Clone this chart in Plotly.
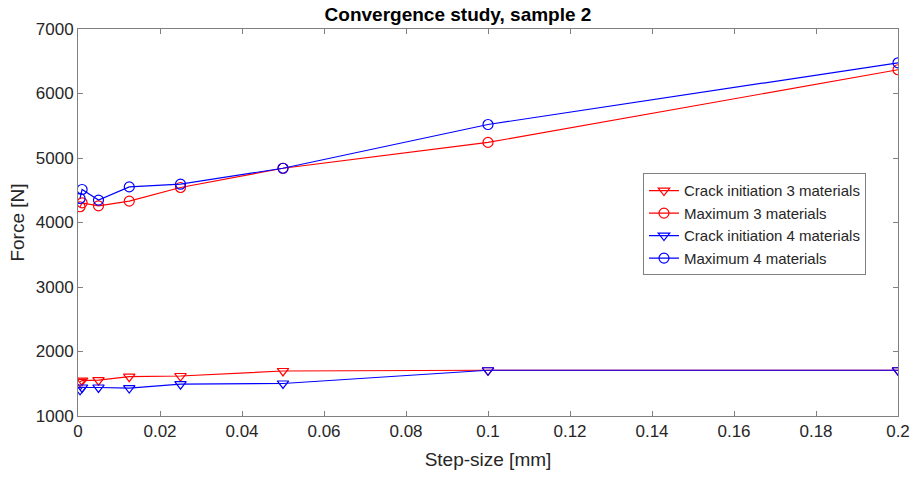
import plotly.graph_objects as go

step = [0.0005, 0.001, 0.005, 0.0125, 0.025, 0.05, 0.1, 0.2]
crack3 = [1530, 1550, 1555, 1610, 1620, 1698, 1709, 1709]
max3 = [4244, 4305, 4259, 4331, 4543, 4841, 5242, 6368]
crack4 = [1405, 1442, 1442, 1432, 1493, 1504, 1709, 1709]
max4 = [4373, 4512, 4347, 4552, 4594, 4841, 5519, 6476]

FONT = "Liberation Sans, Arial, Helvetica"

fig = go.Figure()
series = [
    ("Crack initiation 3 materials", crack3, "red", "triangle-down-open"),
    ("Maximum 3 materials", max3, "red", "circle-open"),
    ("Crack initiation 4 materials", crack4, "blue", "triangle-down-open"),
    ("Maximum 4 materials", max4, "blue", "circle-open"),
]
for name, ys, col, sym in series:
    fig.add_trace(go.Scatter(
        x=step, y=ys, name=name, mode="lines+markers",
        line=dict(color=col, width=1.2),
        marker=dict(symbol=sym, size=10, color=col, line=dict(color=col, width=1.2)),
    ))

axis_common = dict(
    showgrid=False, zeroline=False, showline=True, linecolor="#808080", linewidth=1,
    mirror="ticks", ticks="inside", ticklen=5, tickcolor="#808080", automargin=False,
    tickfont=dict(family=FONT, size=17, color="#262626"),
)
fig.update_xaxes(range=[0, 0.2], dtick=0.02, tickformat="~g",
                 title=dict(text="Step-size [mm]", font=dict(family=FONT, size=19, color="#262626"), standoff=12),
                 **axis_common)
fig.update_yaxes(range=[1000, 7000], dtick=1000,
                 title=dict(text="Force [N]", font=dict(family=FONT, size=19, color="#262626"), standoff=6),
                 **axis_common)

fig.update_layout(
    width=916, height=477,
    margin=dict(l=78, r=18, t=29, b=61),
    paper_bgcolor="white", plot_bgcolor="white",
    title=dict(text="<b>Convergence study, sample 2</b>", x=0.5, xanchor="center",
               y=0.97, yanchor="middle",
               font=dict(family=FONT, size=19, color="black")),
    legend=dict(x=0.689, y=0.627, xanchor="left", yanchor="top",
                bgcolor="white", bordercolor="#808080", borderwidth=1,
                font=dict(family=FONT, size=15, color="#262626"),
                tracegroupgap=0),
    showlegend=True,
)

fig.write_html("out.html")
